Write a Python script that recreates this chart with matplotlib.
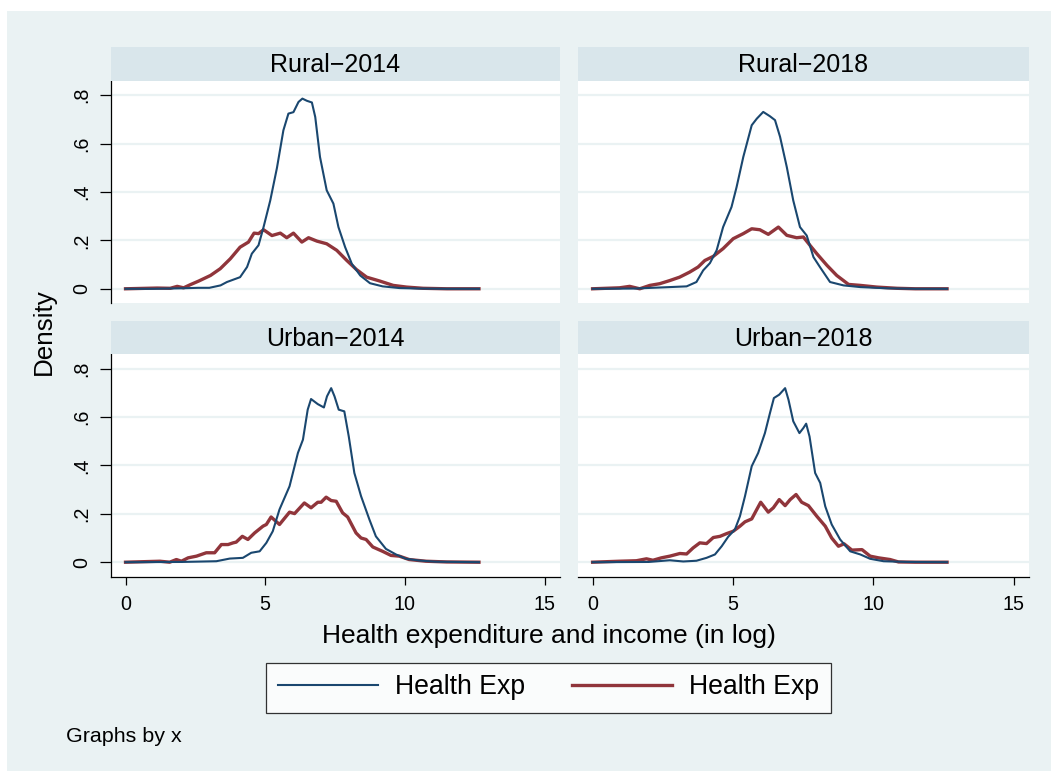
import matplotlib
matplotlib.use("Agg")
import matplotlib.pyplot as plt
from matplotlib.patches import Rectangle
from matplotlib.lines import Line2D

plt.rcParams['font.family'] = ['Liberation Sans', 'DejaVu Sans']

# ---------------- data ----------------
panel_titles = ["Rural\u22122014", "Rural\u22122018", "Urban\u22122014", "Urban\u22122018"]
legend_labels = ["Health Exp", "Health Exp"]
x_ticks = [0, 5, 10, 15]
y_ticks = [0, 0.2, 0.4, 0.6, 0.8]
y_tick_labels = ["0", ".2", ".4", ".6", ".8"]
x_title = "Health expenditure and income (in log)"
y_title = "Density"
note = "Graphs by x"

rural14_blue_x = [0, 1.0, 2.0, 2.6, 3.0, 3.4, 3.63, 4.1, 4.35, 4.52, 4.76, 4.94, 5.18, 5.42, 5.65, 5.83,
                  6.01, 6.19, 6.33, 6.49, 6.67, 6.79, 6.96, 7.2, 7.44, 7.62, 7.86, 8.1, 8.4, 8.75, 9.2,
                  9.8, 10.5, 11.5, 12.65]
rural14_blue_y = [0, 0, 0.002, 0.004, 0.004, 0.014, 0.028, 0.048, 0.09, 0.145, 0.18, 0.255, 0.365, 0.50,
                  0.655, 0.724, 0.73, 0.772, 0.786, 0.777, 0.77, 0.71, 0.545, 0.407, 0.352, 0.255, 0.172,
                  0.103, 0.055, 0.023, 0.01, 0.003, 0.001, 0, 0]
rural14_red_x = [0, 1.13, 1.6, 1.85, 2.08, 2.32, 2.62, 3.04, 3.39, 3.75, 4.1, 4.4, 4.6, 4.76, 4.94, 5.24,
                 5.54, 5.77, 6.01, 6.31, 6.55, 6.85, 7.2, 7.56, 7.92, 8.27, 8.63, 9.1, 9.58, 10.06, 10.65,
                 11.5, 12.65]
rural14_red_y = [0, 0.003, 0.002, 0.01, 0.004, 0.017, 0.032, 0.055, 0.083, 0.124, 0.172, 0.193, 0.23,
                 0.228, 0.244, 0.22, 0.23, 0.211, 0.23, 0.193, 0.211, 0.197, 0.186, 0.159, 0.117, 0.079,
                 0.048, 0.032, 0.014, 0.007, 0.002, 0, 0]

rural18_blue_x = [0, 1.5, 2.75, 3.35, 3.7, 3.94, 4.18, 4.42, 4.65, 4.95, 5.13, 5.37, 5.67, 5.85, 6.08,
                  6.32, 6.5, 6.68, 6.92, 7.15, 7.39, 7.63, 7.87, 8.1, 8.46, 8.94, 9.54, 10.5, 11.5, 12.63]
rural18_blue_y = [0, 0.001, 0.007, 0.01, 0.028, 0.076, 0.106, 0.159, 0.255, 0.338, 0.42, 0.545, 0.676,
                  0.703, 0.731, 0.713, 0.697, 0.628, 0.503, 0.365, 0.255, 0.22, 0.131, 0.09, 0.028,
                  0.014, 0.007, 0.002, 0, 0]
rural18_red_x = [0, 0.96, 1.32, 1.68, 2.04, 2.39, 2.75, 3.1, 3.46, 3.76, 4.0, 4.3, 4.65, 5.01, 5.37,
                 5.67, 5.96, 6.26, 6.62, 6.92, 7.27, 7.51, 7.75, 7.99, 8.35, 8.7, 9.12, 9.54, 10.13,
                 10.85, 11.5, 12.63]
rural18_red_y = [0, 0.004, 0.01, 0.0, 0.014, 0.021, 0.034, 0.048, 0.069, 0.09, 0.117, 0.134, 0.166,
                 0.207, 0.228, 0.248, 0.244, 0.225, 0.255, 0.221, 0.211, 0.214, 0.179, 0.145, 0.097,
                 0.055, 0.018, 0.014, 0.007, 0.002, 0, 0]

urban14_blue_x = [0, 2.0, 3.25, 3.73, 4.2, 4.5, 4.8, 5.04, 5.27, 5.51, 5.87, 6.17, 6.35, 6.52, 6.64,
                  6.88, 7.1, 7.21, 7.36, 7.48, 7.63, 7.83, 7.99, 8.19, 8.43, 8.73, 8.96, 9.32, 9.68,
                  10.04, 10.5, 11.1, 12.65]
urban14_blue_y = [0, 0.001, 0.004, 0.015, 0.018, 0.039, 0.045, 0.08, 0.128, 0.218, 0.314, 0.452, 0.507,
                  0.631, 0.675, 0.654, 0.64, 0.686, 0.72, 0.686, 0.631, 0.624, 0.52, 0.369, 0.273, 0.176,
                  0.107, 0.055, 0.032, 0.014, 0.007, 0.002, 0]
urban14_red_x = [0, 1.23, 1.58, 1.82, 2.0, 2.24, 2.54, 2.89, 3.19, 3.43, 3.67, 3.85, 3.96, 4.18, 4.38,
                 4.62, 4.92, 5.04, 5.21, 5.51, 5.87, 6.05, 6.4, 6.64, 6.88, 7.0, 7.18, 7.36, 7.54, 7.77,
                 7.95, 8.25, 8.43, 8.61, 8.85, 9.2, 9.5, 9.8, 10.15, 10.75, 11.5, 12.65]
urban14_red_y = [0, 0.004, 0.0, 0.011, 0.004, 0.018, 0.025, 0.039, 0.039, 0.073, 0.073, 0.08, 0.083,
                 0.107, 0.094, 0.121, 0.149, 0.156, 0.187, 0.156, 0.207, 0.201, 0.245, 0.225, 0.248,
                 0.248, 0.269, 0.255, 0.252, 0.204, 0.187, 0.121, 0.1, 0.094, 0.063, 0.045, 0.028,
                 0.025, 0.011, 0.004, 0.001, 0]

urban18_blue_x = [0, 2.0, 2.75, 3.23, 3.7, 4.06, 4.36, 4.6, 4.83, 5.07, 5.25, 5.43, 5.67, 5.9, 6.14,
                  6.32, 6.46, 6.65, 6.86, 6.98, 7.15, 7.37, 7.51, 7.61, 7.73, 7.93, 8.11, 8.29, 8.52,
                  8.82, 9.18, 9.54, 9.89, 10.37, 11.2, 12.63]
urban18_blue_y = [0, 0.001, 0.008, 0.003, 0.006, 0.018, 0.032, 0.066, 0.105, 0.135, 0.19, 0.273, 0.397,
                  0.452, 0.534, 0.617, 0.679, 0.693, 0.72, 0.672, 0.583, 0.534, 0.555, 0.573, 0.52,
                  0.369, 0.328, 0.231, 0.156, 0.094, 0.045, 0.032, 0.014, 0.004, 0.001, 0]
urban18_red_x = [0, 0.96, 1.56, 1.92, 2.15, 2.45, 2.75, 3.11, 3.35, 3.58, 3.82, 4.06, 4.3, 4.54, 4.77,
                 5.01, 5.25, 5.43, 5.67, 5.85, 5.99, 6.26, 6.44, 6.65, 6.86, 7.04, 7.25, 7.45, 7.69,
                 7.99, 8.29, 8.52, 8.76, 8.96, 9.24, 9.6, 9.89, 10.19, 10.6, 10.9, 11.5, 12.63]
urban18_red_y = [0, 0.004, 0.006, 0.014, 0.008, 0.018, 0.025, 0.036, 0.034, 0.059, 0.08, 0.077, 0.102,
                 0.107, 0.118, 0.128, 0.149, 0.167, 0.179, 0.218, 0.248, 0.207, 0.225, 0.259, 0.234,
                 0.259, 0.28, 0.248, 0.234, 0.19, 0.149, 0.1, 0.066, 0.076, 0.05, 0.052, 0.025, 0.018,
                 0.011, 0.001, 0, 0]

blue_series = [(rural14_blue_x, rural14_blue_y), (rural18_blue_x, rural18_blue_y),
               (urban14_blue_x, urban14_blue_y), (urban18_blue_x, urban18_blue_y)]
red_series = [(rural14_red_x, rural14_red_y), (rural18_red_x, rural18_red_y),
              (urban14_red_x, urban14_red_y), (urban18_red_x, urban18_red_y)]

# ---------------- styling ----------------
W, H = 1051, 771
BG = "#EAF2F3"
STRIP = "#D9E6EB"
GRID = "#EAF2F3"
NAVY = "#1A476F"
MAROON = "#90353B"

fig = plt.figure(figsize=(W / 100, H / 100), dpi=100)
fig.patch.set_facecolor("white")
fig.patches.append(Rectangle((7 / W, 0), 1 - 7 / W, 1 - 11 / H, transform=fig.transFigure,
                             facecolor=BG, edgecolor="none", zorder=-10))


def fx(px):
    return px / W


def fy(py):
    return 1 - py / H


# panel geometry in pixels: (left, right, strip_top, plot_top, plot_bottom)
cols = [(111, 560), (578, 1029)]
rows = [(46.7, 80.7, 303.3), (321, 354.3, 576.7)]

for i in range(4):
    r, c = divmod(i, 2)
    left, right = cols[c]
    stop, ptop, pbot = rows[r]
    ax = fig.add_axes([fx(left), fy(pbot), (right - left) / W, (pbot - ptop) / H])
    ax.set_facecolor("white")
    ax.set_xlim(-0.52, 15.55)
    ax.set_ylim(-0.06, 0.86)
    for yv in y_ticks:
        ax.axhline(yv, color=GRID, lw=1.6, zorder=0)
    bx, by = blue_series[i]
    rx, ry = red_series[i]
    ax.plot(bx, by, color=NAVY, lw=1.5, solid_joinstyle="round", zorder=3)
    ax.plot(rx, ry, color=MAROON, lw=2.4, solid_joinstyle="round", zorder=2)

    for s in ["top", "right"]:
        ax.spines[s].set_visible(False)
    ax.spines["left"].set_visible(c == 0)
    ax.spines["bottom"].set_visible(r == 1)
    ax.spines["left"].set_linewidth(0.9)
    ax.spines["bottom"].set_linewidth(0.9)

    ax.set_xticks(x_ticks)
    ax.set_yticks(y_ticks)
    if r == 1:
        ax.set_xticklabels([str(t) for t in x_ticks], fontsize=14.2)
        ax.tick_params(axis="x", length=6, width=0.9, pad=7)
    else:
        ax.tick_params(axis="x", length=0, labelbottom=False)
    if c == 0:
        ax.set_yticklabels(y_tick_labels, fontsize=14.2, rotation=90, va="center")
        ax.tick_params(axis="y", length=8, width=0.9, pad=6)
    else:
        ax.tick_params(axis="y", length=0, labelleft=False)

    # strip
    sax = fig.add_axes([fx(left), fy(ptop), (right - left) / W, (ptop - stop) / H])
    sax.set_facecolor(STRIP)
    sax.set_xticks([])
    sax.set_yticks([])
    for s in sax.spines.values():
        s.set_visible(False)
    sax.text(0.5, 0.47, panel_titles[i], ha="center", va="center", fontsize=18,
             transform=sax.transAxes)

fig.text(fx(44), fy(332), y_title, rotation=90, ha="center", va="center", fontsize=18.7)
fig.text(fx(549), fy(636), x_title, ha="center", va="center", fontsize=19)
fig.text(fx(66), fy(736), note, ha="left", va="center", fontsize=15.4)

handles = [Line2D([], [], color=NAVY, lw=1.5), Line2D([], [], color=MAROON, lw=2.4)]
leg = fig.legend(handles, legend_labels, loc="center", bbox_to_anchor=(fx(548.5), fy(687.5)),
                 ncol=2, fontsize=19.2, frameon=True, fancybox=False, handlelength=3.75,
                 handletextpad=0.65, columnspacing=1.75, borderpad=0.45, borderaxespad=0)
leg.get_frame().set_edgecolor("black")
leg.get_frame().set_linewidth(0.9)
leg.get_frame().set_facecolor("white")

fig.savefig("out.png", dpi=100, facecolor=fig.get_facecolor())
